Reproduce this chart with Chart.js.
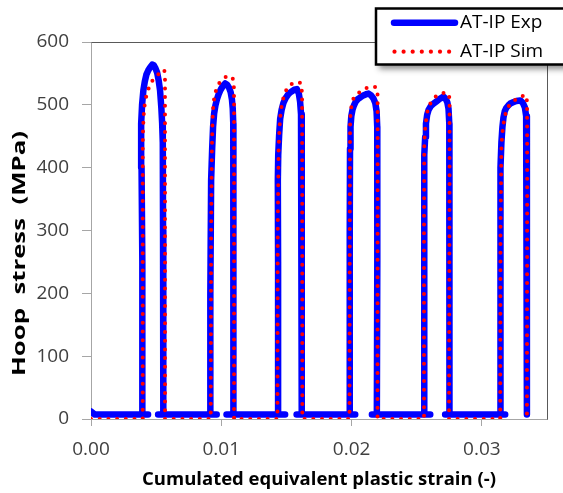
<!DOCTYPE html>
<html>
<head>
<meta charset="utf-8">
<title>Hoop stress vs cumulated plastic strain</title>
<script src="https://cdn.jsdelivr.net/npm/chart.js@4/dist/chart.umd.min.js"></script>
<style>
    html, body { margin: 0; padding: 0; background: #ffffff; }
    #hoopChart { display: block; }
</style>
</head>
<body>
<canvas id="hoopChart" width="563" height="493"></canvas>
<script>
// Experimental curve (AT-IP Exp): one block per cycle, horizontals between
const expStrain = [
    0, 0.0003, 0.00438, 0.00397,
    0.00394, 0.00388, 0.00385, 0.00392, 0.00402, 0.00413, 0.00425, 0.00440, 0.00455, 0.00470, 0.00482, 0.00495, 0.00508, 0.00520, 0.00530, 0.00540, 0.00546, 0.00551, 0.00553, 0.00555,
    0.00515, 0.00965, 0.00914,
    0.00916, 0.00922, 0.00930, 0.00937, 0.00945, 0.00955, 0.00967, 0.00980, 0.00995, 0.01012, 0.01030, 0.01045, 0.01060, 0.01072, 0.01082, 0.01088, 0.01092, 0.01093, 0.01093, 0.01093,
    0.01040, 0.01490, 0.01439,
    0.01436, 0.01434, 0.01437, 0.01444, 0.01452, 0.01463, 0.01477, 0.01495, 0.01515, 0.01537, 0.01560, 0.01580, 0.01595, 0.01605, 0.01612, 0.01616, 0.01618, 0.01618, 0.01618,
    0.01578, 0.02028, 0.01984,
    0.01986, 0.01988, 0.01992, 0.01998, 0.02007, 0.02018, 0.02032, 0.02048, 0.02068, 0.02090, 0.02112, 0.02130, 0.02150, 0.02168, 0.02182, 0.02192, 0.02197, 0.02199, 0.02196, 0.02194,
    0.02156, 0.02604, 0.02558,
    0.02556, 0.02560, 0.02565, 0.02571, 0.02580, 0.02591, 0.02608, 0.02629, 0.02655, 0.02680, 0.02706, 0.02722, 0.02735, 0.02744, 0.02750, 0.02752, 0.02752, 0.02750,
    0.02718, 0.03179, 0.03141,
    0.03141, 0.03145, 0.03150, 0.03158, 0.03166, 0.03176, 0.03187, 0.03203, 0.03218, 0.03240, 0.03265, 0.03295, 0.03315, 0.03330, 0.03340, 0.03345, 0.03346, 0.03346, 0.03346
];
const expStress = [
    12, 7, 7, 7,
    250, 400, 470, 500, 523, 537, 548, 555, 560, 564, 563, 558, 551, 538, 523, 495, 471, 440, 300, 7,
    7, 7, 7,
    200, 380, 430, 465, 486, 499, 509, 517, 524, 530, 534, 532, 527, 520, 508, 494, 470, 440, 300, 7,
    7, 7, 7,
    250, 380, 420, 452, 478, 492, 503, 511, 517, 521, 524, 525, 518, 505, 485, 455, 400, 200, 7,
    7, 7, 7,
    300, 430, 465, 482, 492, 499, 505, 509, 512, 515, 517, 518, 515, 510, 503, 490, 465, 430, 250, 7,
    7, 7, 7,
    300, 420, 449, 470, 484, 492, 498, 502, 506, 510, 513, 510, 504, 494, 470, 440, 250, 7,
    7, 7, 7,
    300, 400, 440, 465, 480, 490, 495, 499, 502, 504, 506, 507, 503, 496, 482, 460, 430, 250, 7
];

// Simulated curve (AT-IP Sim)
const simStrain = [
    0, 0.00397,
    0.00397, 0.00400, 0.00405, 0.00412, 0.00420, 0.00430, 0.00440, 0.00453, 0.00466, 0.00488, 0.00509, 0.00535, 0.00555, 0.00566, 0.00568, 0.00568,
    0.00919, 0.00922, 0.00928, 0.00932, 0.00936, 0.00945, 0.00955, 0.00967, 0.00982, 0.00998, 0.01020, 0.01045, 0.01065, 0.01085, 0.01096, 0.01098, 0.01098,
    0.01431, 0.01433, 0.01440, 0.01446, 0.01452, 0.01459, 0.01468, 0.01480, 0.01498, 0.01521, 0.01548, 0.01575, 0.01600, 0.01615, 0.01620, 0.01621, 0.01622,
    0.01984, 0.01986, 0.01988, 0.01989, 0.01995, 0.02002, 0.02015, 0.02028, 0.02041, 0.02068, 0.02097, 0.02128, 0.02160, 0.02185, 0.02199, 0.02200, 0.02200, 0.02199,
    0.02556, 0.02556, 0.02558, 0.02565, 0.02573, 0.02583, 0.02595, 0.02609, 0.02628, 0.02650, 0.02678, 0.02706, 0.02730, 0.02748, 0.02752, 0.02752, 0.02748,
    0.03141, 0.03143, 0.03150, 0.03155, 0.03162, 0.03172, 0.03187, 0.03203, 0.03223, 0.03245, 0.03270, 0.03300, 0.03333, 0.03344, 0.03347, 0.03348, 0.03346
];
const simStress = [
    0, 0,
    440, 465, 485, 500, 510, 518, 525, 531, 537, 543, 547, 552, 556, 553, 540, 0,
    0, 300, 430, 468, 492, 510, 520, 528, 534, 538, 542, 546, 546, 543, 538, 510, 0,
    0, 300, 430, 460, 479, 493, 503, 514, 523, 531, 534, 536, 536, 533, 515, 400, 0,
    0, 300, 440, 476, 491, 503, 510, 514, 517, 521, 525, 528, 529, 528, 525, 500, 400, 0,
    0, 300, 440, 463, 477, 491, 498, 504, 509, 514, 517, 519, 519, 517, 505, 400, 0,
    0, 300, 430, 449, 464, 477, 491, 497, 502, 506, 510, 513, 516, 512, 500, 400, 0
];

const xTickValues = [0, 0.01, 0.02, 0.03];
const xTickLabels = ['0.00', '0.01', '0.02', '0.03'];
const yTickValues = [0, 100, 200, 300, 400, 500, 600];
const yTickLabels = ['0', '100', '200', '300', '400', '500', '600'];

const seriesNames = ['AT-IP Exp', 'AT-IP Sim'];
const xTitle = 'Cumulated equivalent plastic strain (-)';
const yTitle = 'Hoop  stress  (MPa)';

const BLUE = '#0000ff';
const RED = '#ff0000';
const AXIS_GREY = '#a6a6a6';
const TEXT_FONT = '"Open Sans", "Noto Sans", sans-serif';

document.addEventListener('DOMContentLoaded', function() {
    initializeChart();
});

function toPoints(xs, ys) {
    return xs.map((x, i) => ({ x: x, y: ys[i] }));
}

/**
 * Top and right edges of the plot frame (left/bottom come from the axes)
 */
const plotFramePlugin = {
    id: 'plotFrame',
    beforeDatasetsDraw(chart) {
        const { ctx, chartArea } = chart;
        ctx.save();
        ctx.strokeStyle = '#595959';
        ctx.lineWidth = 1;
        ctx.beginPath();
        ctx.moveTo(Math.round(chartArea.left) + 0.5, Math.round(chartArea.top) + 0.5);
        ctx.lineTo(Math.round(chartArea.right) + 0.5, Math.round(chartArea.top) + 0.5);
        ctx.lineTo(Math.round(chartArea.right) + 0.5, Math.round(chartArea.bottom) + 0.5);
        ctx.stroke();
        ctx.restore();
    }
};

/**
 * Vertical axis title, drawn by hand so it can be stretched along its length
 */
const yTitlePlugin = {
    id: 'yTitle',
    afterDraw(chart) {
        const ctx = chart.ctx;
        const area = chart.chartArea;
        ctx.save();
        ctx.font = 'bold 18px ' + TEXT_FONT;
        const stretch = 245 / ctx.measureText(yTitle).width;
        ctx.translate(20, (area.top + area.bottom) / 2 + 23);
        ctx.rotate(-Math.PI / 2);
        ctx.scale(stretch, 1);
        ctx.fillStyle = '#000000';
        ctx.textAlign = 'center';
        ctx.textBaseline = 'middle';
        ctx.fillText(yTitle, 0, 0);
        ctx.restore();
    }
};

/**
 * Boxed legend in the top right corner, with a drop shadow
 */
const boxLegendPlugin = {
    id: 'boxLegend',
    afterDraw(chart) {
        const ctx = chart.ctx;
        const box = { x: 376, y: 8.5, w: 200, h: 56 };

        ctx.save();
        ctx.shadowColor = 'rgba(0, 0, 0, 0.45)';
        ctx.shadowBlur = 6;
        ctx.shadowOffsetX = 3;
        ctx.shadowOffsetY = 4;
        ctx.fillStyle = '#ffffff';
        ctx.fillRect(box.x, box.y, box.w, box.h);
        ctx.restore();

        ctx.save();
        ctx.strokeStyle = '#000000';
        ctx.lineWidth = 2.5;
        ctx.strokeRect(box.x, box.y, box.w, box.h);

        // solid sample
        const exp = chart.data.datasets[0];
        ctx.strokeStyle = exp.borderColor;
        ctx.lineWidth = exp.borderWidth;
        ctx.lineCap = 'round';
        ctx.beginPath();
        ctx.moveTo(394, 22.7);
        ctx.lineTo(455, 22.7);
        ctx.stroke();

        // dotted sample
        const sim = chart.data.datasets[1];
        ctx.fillStyle = sim.borderColor;
        for (let i = 0; i < 7; i++) {
            ctx.beginPath();
            ctx.arc(394.5 + i * 9.1, 51.7, 2.1, 0, Math.PI * 2);
            ctx.fill();
        }

        ctx.fillStyle = '#000000';
        ctx.font = '19px ' + TEXT_FONT;
        ctx.textAlign = 'left';
        ctx.textBaseline = 'middle';
        ctx.fillText(exp.label, 460, 22.5);
        ctx.fillText(sim.label, 460, 51.5);
        ctx.restore();
    }
};

function initializeChart() {
    const ctx = document.getElementById('hoopChart').getContext('2d');

    new Chart(ctx, {
        type: 'scatter',
        data: {
            datasets: [
                {
                    label: seriesNames[0],
                    data: toPoints(expStrain, expStress),
                    showLine: true,
                    borderColor: BLUE,
                    backgroundColor: BLUE,
                    borderWidth: 6.5,
                    borderCapStyle: 'round',
                    borderJoinStyle: 'round',
                    pointRadius: 0,
                    tension: 0,
                    order: 2
                },
                {
                    label: seriesNames[1],
                    data: toPoints(simStrain, simStress),
                    showLine: true,
                    borderColor: RED,
                    backgroundColor: RED,
                    borderWidth: 4,
                    borderDash: [0, 8.7],
                    borderCapStyle: 'round',
                    borderJoinStyle: 'round',
                    pointRadius: 0,
                    tension: 0,
                    order: 1
                }
            ]
        },
        options: {
            responsive: false,
            animation: false,
            devicePixelRatio: 1,
            layout: {
                padding: { left: 0, top: 42, right: 16, bottom: 0 }
            },
            plugins: {
                legend: { display: false },
                tooltip: { enabled: false }
            },
            scales: {
                x: {
                    type: 'linear',
                    position: 'bottom',
                    min: 0,
                    max: 0.035,
                    afterBuildTicks: function(scale) {
                        scale.ticks = xTickValues.map(v => ({ value: v }));
                    },
                    afterFit: function(scale) {
                        scale.height = 74;
                    },
                    grid: {
                        drawOnChartArea: false,
                        drawTicks: true,
                        tickLength: 7,
                        color: AXIS_GREY
                    },
                    border: { display: true, color: AXIS_GREY, width: 1 },
                    ticks: {
                        color: '#404040',
                        padding: 12,
                        maxRotation: 0,
                        font: { family: TEXT_FONT, size: 19 },
                        callback: function(value) {
                            const i = xTickValues.indexOf(value);
                            return i >= 0 ? xTickLabels[i] : '';
                        }
                    },
                    title: {
                        display: true,
                        text: xTitle,
                        color: '#000000',
                        padding: { top: 0, bottom: 2 },
                        font: { family: TEXT_FONT, size: 18.5, weight: 'bold' }
                    }
                },
                y: {
                    type: 'linear',
                    min: 0,
                    max: 600,
                    afterBuildTicks: function(scale) {
                        scale.ticks = yTickValues.map(v => ({ value: v }));
                    },
                    afterFit: function(scale) {
                        scale.width = 91;
                    },
                    grid: {
                        drawOnChartArea: false,
                        drawTicks: true,
                        tickLength: 9,
                        color: AXIS_GREY
                    },
                    border: { display: true, color: AXIS_GREY, width: 1 },
                    ticks: {
                        color: '#404040',
                        padding: 13,
                        font: { family: TEXT_FONT, size: 19 },
                        callback: function(value) {
                            const i = yTickValues.indexOf(value);
                            return i >= 0 ? yTickLabels[i] : '';
                        }
                    },
                    title: { display: false }
                }
            }
        },
        plugins: [plotFramePlugin, yTitlePlugin, boxLegendPlugin]
    });
}
</script>
</body>
</html>
